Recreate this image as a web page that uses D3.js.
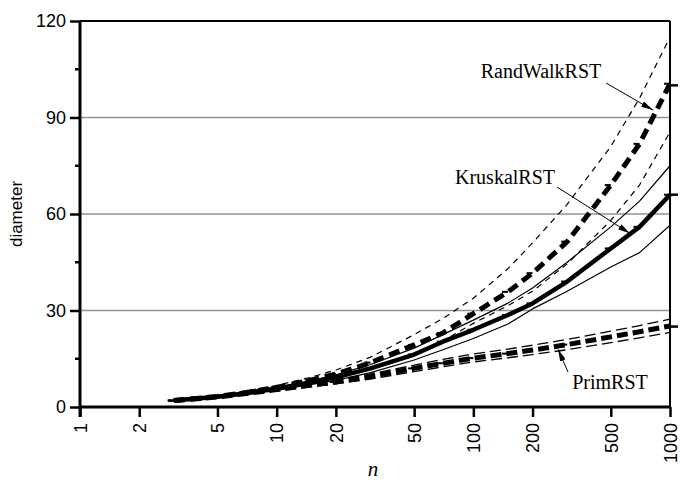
<!DOCTYPE html>
<html><head><meta charset="utf-8">
<script src="https://cdn.jsdelivr.net/npm/d3@7"></script>
<style>body{margin:0;background:#fff}</style>
</head><body>
<svg id="c" width="680" height="491"></svg>
<script>
const nVals = [3,5,7,10,15,20,30,50,70,100,150,200,300,500,700,1000];
const randMean  = [2,3.3,4.5,6.1,8.4,10.2,13.8,19.3,23,29,35.8,41.6,51.4,69,81.8,100.5];
const randUpper = [2,3.6,5,6.7,9.3,11.5,15.5,22.5,27.5,33.8,43,51,63,81,96,115];
const randLower = [2,3.1,4.1,5.5,7.5,9,12,16.8,20.5,26,31.5,36,44.5,58,69,85.5];
const krusMean  = [2,3.2,4.3,5.7,7.6,9.2,12,16.3,20.3,24,28.6,32.2,39,49.3,56,66];
const krusUpper = [2,3.4,4.7,6.1,8.2,10,13.2,18.3,22.5,27,32.3,37,45,56,64,75];
const krusLower = [2,3,4,5.3,7,8.3,10.7,14.6,17.8,21.3,25.8,30.5,36,43.5,48,56.5];
const primMean  = [2,3.1,4.2,5.4,6.8,7.8,9.5,12,13.6,15.2,16.6,17.7,19.4,21.8,23.4,25.2];
const primUpper = [2,3.3,4.5,5.8,7.3,8.5,10.3,13,14.8,16.5,18,19.2,21,23.6,25.3,27.3];
const primLower = [2,2.9,3.9,5,6.3,7.2,8.7,11,12.5,14,15.3,16.3,17.8,20,21.5,23.2];
const xTicks = [1,2,5,10,20,50,100,200,500,1000];
const yTicks = [0,30,60,90,120];
const yMinor = [15,45,75,105];
const gridVals = [30,60,90];
const endVals = [25,66,100];

const SANS = "'Liberation Sans', Arial, sans-serif";
const SERIF = "'Liberation Serif', 'Times New Roman', serif";
const svg = d3.select("#c");
const L=80,R=670,T=21,B=407;
const x = d3.scaleLog().domain([1,1000]).range([L,R]);
const y = d3.scaleLinear().domain([0,120]).range([B,T]);

// grid
svg.append("g").selectAll("line").data(gridVals).join("line")
  .attr("x1",L).attr("x2",R).attr("y1",d=>y(d)).attr("y2",d=>y(d))
  .attr("stroke","#8795a4").attr("stroke-width",1.5);

const line = d3.line().x((d,i)=>x(nVals[i])).y(d=>y(d));
const series = [
  {v:randUpper,w:1.2,dash:"6,5"},
  {v:randLower,w:1.2,dash:"6,5"},
  {v:krusUpper,w:1.2,dash:null},
  {v:krusLower,w:1.2,dash:null},
  {v:primUpper,w:1.3,dash:"11,5"},
  {v:primLower,w:1.3,dash:"11,5"},
  {v:primMean,w:5,dash:"11,5",mark:true},
  {v:krusMean,w:4.5,dash:null,mark:true},
  {v:randMean,w:5,dash:"11,6",mark:true},
];
series.forEach(s=>{
  svg.append("path").attr("d",line(s.v)).attr("fill","none")
    .attr("stroke","#000").attr("stroke-width",s.w)
    .attr("stroke-dasharray",s.dash).attr("stroke-linejoin","round");
  if(s.mark){
    svg.append("g").selectAll("line").data(s.v).join("line")
      .attr("x1",(d,i)=>x(nVals[i])-6).attr("x2",(d,i)=>x(nVals[i]))
      .attr("y1",d=>y(d)).attr("y2",d=>y(d))
      .attr("stroke","#000").attr("stroke-width",2);
  }
});

// frame
svg.append("line").attr("x1",L).attr("x2",R).attr("y1",T).attr("y2",T).attr("stroke","#000").attr("stroke-width",2);
svg.append("line").attr("x1",R).attr("x2",R).attr("y1",T).attr("y2",B).attr("stroke","#000").attr("stroke-width",2);

// axes
const xAxis = d3.axisBottom(x).tickValues(xTicks).tickFormat(d3.format("d")).tickSize(10).tickPadding(6);
const gx = svg.append("g").attr("transform",`translate(0,${B})`).call(xAxis);
gx.attr("font-family",SANS);
gx.select(".domain").attr("stroke-width",3).attr("d",`M${L},0H${R}`);
gx.selectAll(".tick line").attr("stroke-width",2.5);
gx.selectAll("text").attr("font-family",SANS).attr("font-size",18)
  .attr("fill","#000")
  .attr("transform","rotate(-90)").attr("text-anchor","end").attr("dy","0.35em").attr("x",-16).attr("y",0);

const yAxis = d3.axisLeft(y).tickValues(yTicks).tickSize(10).tickPadding(4);
const gy = svg.append("g").attr("transform",`translate(${L},0)`).call(yAxis);
gy.attr("font-family",SANS);
gy.select(".domain").attr("stroke-width",3).attr("d",`M0,${T}V${B+10}`);
gy.selectAll(".tick line").attr("stroke-width",2.5);
gy.selectAll("text").attr("font-family",SANS).attr("font-size",18).attr("fill","#000");
svg.append("g").selectAll("line").data(yMinor).join("line")
  .attr("x1",L-5).attr("x2",L).attr("y1",d=>y(d)).attr("y2",d=>y(d))
  .attr("stroke","#000").attr("stroke-width",2.5);

// right end ticks
svg.append("g").selectAll("line").data(endVals).join("line")
  .attr("x1",R).attr("x2",R+8).attr("y1",d=>y(d)).attr("y2",d=>y(d))
  .attr("stroke","#000").attr("stroke-width",2.5);

// axis titles
svg.append("text").attr("transform",`translate(22,${(T+B)/2}) rotate(-90)`)
  .attr("text-anchor","middle").attr("font-family",SANS)
  .attr("font-size",17).text("diameter");
svg.append("text").attr("x",(L+R)/2-2).attr("y",476).attr("text-anchor","middle")
  .attr("font-family",SERIF).attr("font-style","italic")
  .attr("font-size",21).text("n");

// annotations
const defs = svg.append("defs");
defs.append("marker").attr("id","ah").attr("viewBox","0 0 12 6").attr("refX",12).attr("refY",3)
  .attr("markerWidth",12).attr("markerHeight",6).attr("markerUnits","userSpaceOnUse").attr("orient","auto")
  .append("path").attr("d","M0,0L12,3L0,6Z").attr("fill","#000");

const notes = [
  {t:"RandWalkRST", tx:541, ty:78, sx:606, sy:83, n:819, v:92.3},
  {t:"KruskalRST", tx:505, ty:184, sx:557, sy:187, n:625, v:54},
  {t:"PrimRST", tx:610, ty:389, sx:568, sy:372, n:270, v:17.9},
];
notes.forEach(a=>{
  svg.append("text").attr("x",a.tx).attr("y",a.ty).attr("text-anchor","middle")
    .attr("font-family",SERIF).attr("font-size",20).text(a.t);
  svg.append("line").attr("x1",a.sx).attr("y1",a.sy).attr("x2",x(a.n)).attr("y2",y(a.v))
    .attr("stroke","#000").attr("stroke-width",1).attr("marker-end","url(#ah)");
});
</script>
</body></html>
